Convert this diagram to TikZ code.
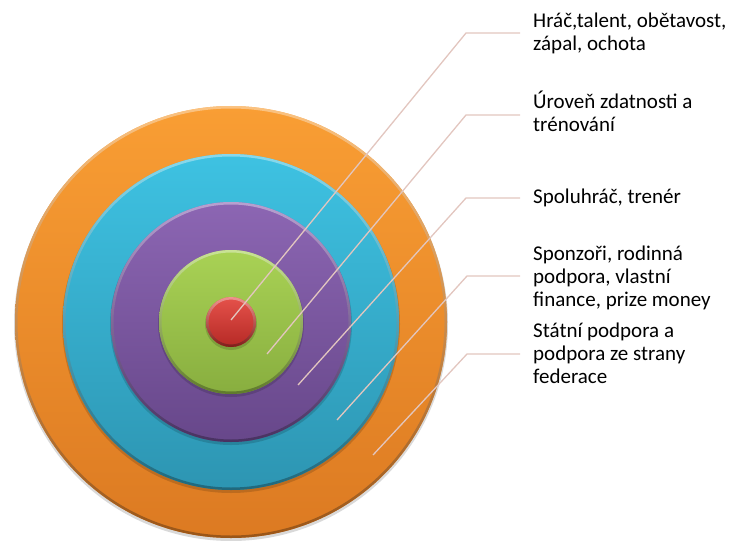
\documentclass[tikz,border=0pt]{standalone}
\usepackage{fontspec}
\setmainfont{Carlito}
\usetikzlibrary{calc}
\definecolor{orT}{HTML}{F99E34}\definecolor{orB}{HTML}{DC7A22}
\definecolor{cyT}{HTML}{3EC2E2}\definecolor{cyB}{HTML}{2D95B2}
\definecolor{puT}{HTML}{8C66B3}\definecolor{puB}{HTML}{67478A}
\definecolor{grT}{HTML}{A9D255}\definecolor{grB}{HTML}{88AE3F}
\definecolor{reT}{HTML}{E5524B}\definecolor{reB}{HTML}{B52925}
\definecolor{leader}{HTML}{E2C6BF}
\newcommand\mydisc[4]{%
  \fill[black,opacity=0.15] ([yshift=-2pt]#1) circle (#2+1pt);
  \shade[top color=#3,bottom color=#4] (#1) circle (#2);
  \shade[top color=#3!55!white,bottom color=#4!65!black,even odd rule,opacity=0.85] (#1) circle (#2) circle (#2-2.5pt);
}
\tikzset{
  lab/.style={anchor=base west,align=left,inner sep=0pt,font=\fontsize{21pt}{23pt}\selectfont},
  leadline/.style={draw=leader,line width=1.3pt,shorten >=13pt},
}
\begin{document}
\begin{tikzpicture}[x=1pt,y=-1pt]
\useasboundingbox (0,0) rectangle (735,540);
\coordinate (c) at (231,322);
\mydisc{c}{216pt}{orT}{orB}
\mydisc{c}{168pt}{cyT}{cyB}
\mydisc{c}{120pt}{puT}{puB}
\mydisc{c}{72pt}{grT}{grB}
\mydisc{c}{25pt}{reT}{reB}

% multi-line nodes: base anchor = baseline of last line
\node[lab] (t1) at (533,51) {Hráč,talent, obětavost,\\zápal, ochota};
\node[lab] (t2) at (533,132) {Úroveň zdatnosti a\\trénování};
\node[lab] (t3) at (533,203) {Spoluhráč, trenér};
\node[lab] (t4) at (533,306) {Sponzoři, rodinná\\podpora, vlastní\\finance, prize money};
\node[lab] (t5) at (533,383) {Státní podpora a\\podpora ze strany\\federace};

\coordinate (p1) at (231,320); \coordinate (e1) at (466,33);
\coordinate (p2) at (267,354); \coordinate (e2) at (466,115);
\coordinate (p3) at (298,385); \coordinate (e3) at (466,198);
\coordinate (p4) at (337,420); \coordinate (e4) at (467,276);
\coordinate (p5) at (373,455); \coordinate (e5) at (467,354);
\foreach \i in {1,...,5}{
  \draw[leadline] (p\i) -- (e\i) -- (e\i -| t\i.west);
}
\end{tikzpicture}
\end{document}
